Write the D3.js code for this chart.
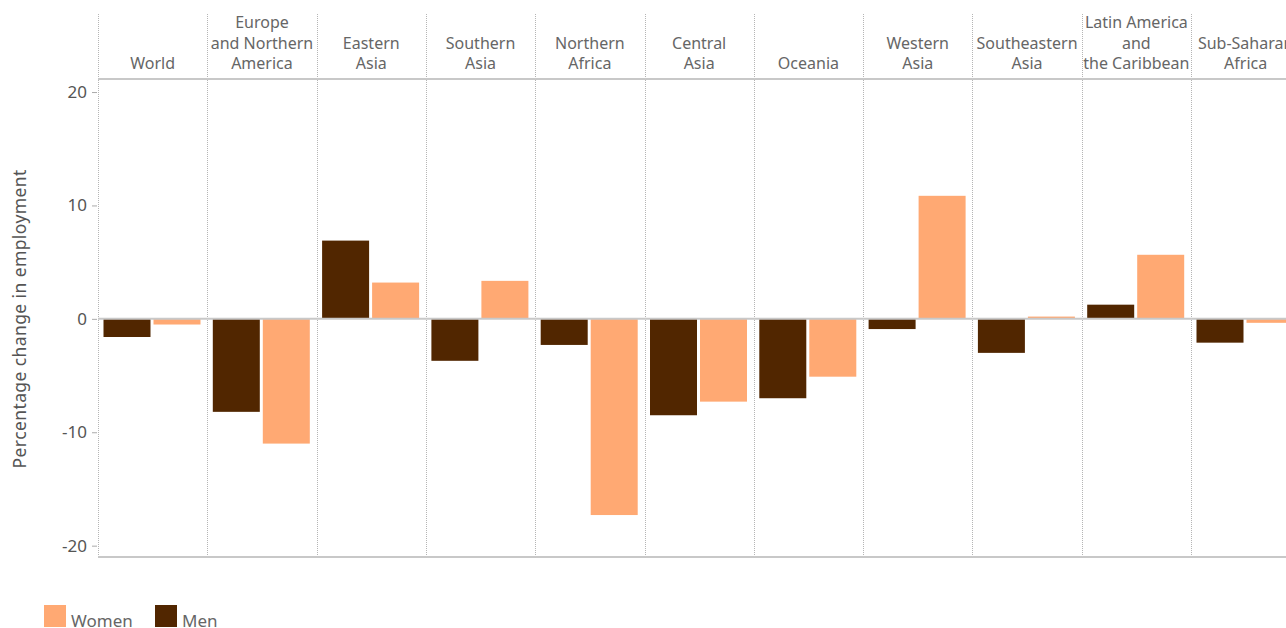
<!DOCTYPE html>
<html>
<head>
<meta charset="utf-8">
<script src="https://cdn.jsdelivr.net/npm/d3@7"></script>
<style>
  html, body { margin: 0; padding: 0; background: #fff; }
  svg { display: block; font-family: "Noto Sans", "Open Sans", sans-serif; }
</style>
</head>
<body>
<svg id="chart" width="1286" height="628"></svg>
<script>
// ---- data ----
const regions = [
  ["World"],
  ["Europe", "and Northern", "America"],
  ["Eastern", "Asia"],
  ["Southern", "Asia"],
  ["Northern", "Africa"],
  ["Central", "Asia"],
  ["Oceania"],
  ["Western", "Asia"],
  ["Southeastern", "Asia"],
  ["Latin America", "and", "the Caribbean"],
  ["Sub-Saharan", "Africa"]
];
const menValues   = [-1.6, -8.2, 6.9, -3.7, -2.3, -8.5, -7.0, -0.9, -3.0, 1.25, -2.1];
const womenValues = [-0.5, -11.0, 3.2, 3.35, -17.3, -7.3, -5.1, 10.85, 0.2, 5.65, -0.35];
const yTicks = [-20, -10, 0, 10, 20];
const seriesNames = ["Men", "Women"];
const legendOrder = ["Women", "Men"];
const colors = { Women: "#FFA973", Men: "#512600" };

(function () {
// ---- layout ----
const svg = d3.select("#chart");
const left = 98, plotTop = 79, plotBottom = 557, headerTop = 14;
const panelW = 109.3;
const keys = regions.map(r => r.join(" "));

const x = d3.scaleBand().domain(keys).range([left, left + panelW * keys.length]).padding(0);
const xi = d3.scaleBand().domain(seriesNames).range([5.5, 102.5]).paddingInner(0.06).paddingOuter(0);
const y = d3.scaleLinear().domain([-21, 21.15]).range([plotBottom, plotTop]);

const data = keys.map((k, i) => ({ key: k, lines: regions[i], Men: menValues[i], Women: womenValues[i] }));

// vertical dotted dividers
const dividers = keys.map(k => x(k));
svg.append("g").selectAll("line").data(dividers).join("line")
  .attr("x1", d => Math.round(d) + 0.5).attr("x2", d => Math.round(d) + 0.5)
  .attr("y1", headerTop).attr("y2", plotBottom)
  .attr("stroke", "#b5b5b5").attr("stroke-width", 1).attr("stroke-dasharray", "1,1");

// header line
svg.append("line").attr("x1", left).attr("x2", 1286).attr("y1", plotTop).attr("y2", plotTop)
  .attr("stroke", "#c8c8c8").attr("stroke-width", 2);
// bottom line
svg.append("line").attr("x1", left).attr("x2", 1286).attr("y1", plotBottom).attr("y2", plotBottom)
  .attr("stroke", "#c8c8c8").attr("stroke-width", 2);

// bars
const groups = svg.append("g").selectAll("g").data(data).join("g")
  .attr("transform", d => `translate(${x(d.key)},0)`);
groups.selectAll("rect").data(d => seriesNames.map(s => ({ s, v: d[s] }))).join("rect")
  .attr("x", d => xi(d.s)).attr("width", xi.bandwidth())
  .attr("y", d => y(Math.max(0, d.v)))
  .attr("height", d => Math.abs(y(d.v) - y(0)))
  .attr("fill", d => colors[d.s]);

// zero line
svg.append("line").attr("x1", left).attr("x2", 1286).attr("y1", y(0)).attr("y2", y(0))
  .attr("stroke", "#c8c8c8").attr("stroke-width", 2);

// header labels
const lineH = 20.5;
const hdr = svg.append("g").selectAll("text").data(data).join("text")
  .attr("x", d => x(d.key) + panelW / 2)
  .attr("text-anchor", "middle")
  .attr("fill", "#666")
  .style("font-size", "16px");
hdr.each(function(d) {
  const t = d3.select(this);
  const n = d.lines.length;
  d.lines.forEach((ln, j) => {
    t.append("tspan").attr("x", x(d.key) + panelW / 2).attr("y", 69 - (n - 1 - j) * lineH).text(ln);
  });
});

// y axis
const yAxis = d3.axisLeft(y).tickValues(yTicks).tickSize(5).tickPadding(5).tickFormat(d => String(d));
const ya = svg.append("g").attr("transform", `translate(${left - 1},0)`).call(yAxis);
ya.select(".domain").remove();
ya.selectAll(".tick line").attr("stroke", "#aaa");
ya.selectAll(".tick text").attr("fill", "#555").style("font-size", "17px")
  .style("font-family", "\"Noto Sans\", sans-serif");

// y axis title
svg.append("text")
  .attr("transform", `translate(26,${y(0)}) rotate(-90)`)
  .attr("text-anchor", "middle")
  .attr("fill", "#555")
  .attr("letter-spacing", "0.4")
  .style("font-size", "17.5px")
  .text("Percentage change in employment");

// legend
const lg = svg.append("g").selectAll("g").data(legendOrder).join("g")
  .attr("transform", (d, i) => `translate(${44 + i * 111},605)`);
lg.append("rect").attr("width", 22).attr("height", 22).attr("fill", d => colors[d]);
lg.append("text").attr("x", 27).attr("y", 22).attr("fill", "#666").style("font-size", "17px").text(d => d);
})();
</script>
</body>
</html>
